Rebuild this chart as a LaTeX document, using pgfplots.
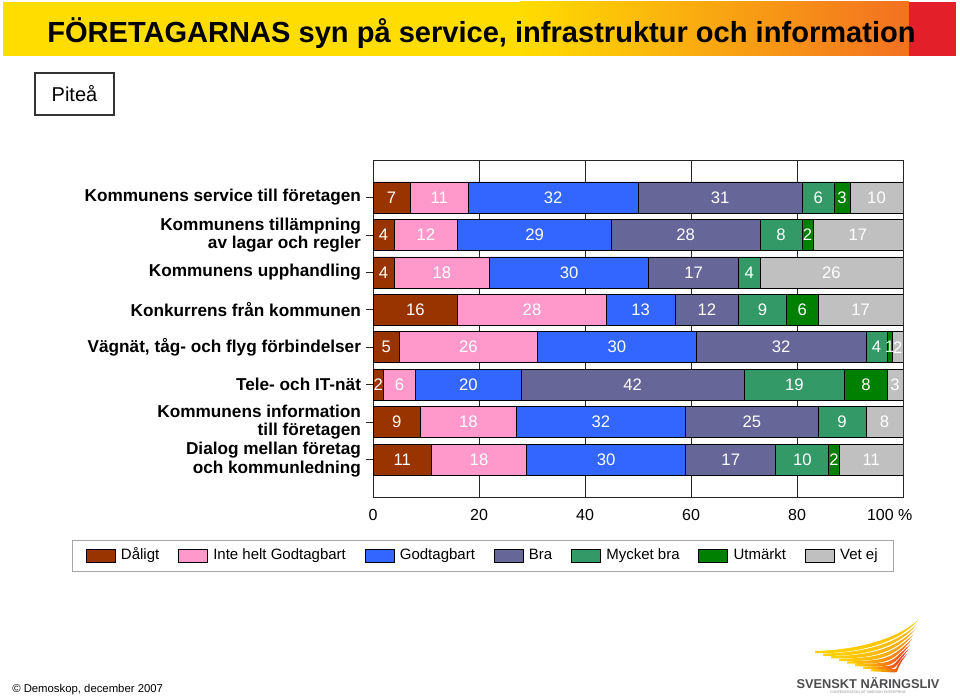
\documentclass[border=0pt]{standalone}
\usepackage{fontspec}
\setmainfont{Liberation Sans}
\usepackage{pgfplots}
\pgfplotsset{compat=1.18}
\definecolor{cDal}{HTML}{993300}
\definecolor{cInte}{HTML}{FF99CC}
\definecolor{cGod}{HTML}{3366FF}
\definecolor{cBra}{HTML}{666699}
\definecolor{cMyc}{HTML}{339966}
\definecolor{cUtm}{HTML}{008000}
\definecolor{cVet}{HTML}{C0C0C0}
\definecolor{bYel}{HTML}{FFDD00}
\definecolor{bOra}{HTML}{F37021}
\definecolor{bRed}{HTML}{E3202A}
\definecolor{logoTxt}{HTML}{4D4D4F}
\definecolor{wYel}{HTML}{FFD400}
\begin{document}
\begin{tikzpicture}
\begin{scope}[x=0.75pt,y=-0.75pt]
\useasboundingbox (0,0) rectangle (960,698);
% banner
\fill[bYel] (3,2) rectangle (520,56);
\shade[left color=bYel,right color=bOra] (520,2) rectangle (909,56);
\fill[bRed] (909,2) rectangle (956,56);
\node[anchor=west, inner sep=0pt, font=\fontsize{21.8}{25}\selectfont\bfseries] at (47,33) {FÖRETAGARNAS syn på service, infrastruktur och information};
% Pitea box
\node[draw=black!80, line width=0.8pt, minimum width=59.25pt, minimum height=31.5pt, inner sep=0pt, font=\fontsize{15}{18}\selectfont] at (74.5,94) {Piteå};
% copyright
\node[anchor=west, inner sep=0pt, font=\fontsize{8.5}{10}\selectfont] at (12,690) {© Demoskop, december 2007};
% logo
\foreach \i/\c in {0/FFC000,1/FDB515,2/F9A01B,3/F7941D,4/F26522,5/EE3A24,6/E8202A,7/D71920}{
  \definecolor{wc}{HTML}{\c}
  \pgfmathsetmacro{\sx}{815+8*\i}
  \pgfmathsetmacro{\sy}{651+2.6*\i}
  \pgfmathsetmacro{\tx}{918-1.5*\i}
  \pgfmathsetmacro{\ty}{620+4.8*\i}
  \shade[left color=wYel, right color=wc] (\sx,\sy) .. controls (\sx+40,\sy-1) and (\tx-22,\ty+20) .. (\tx,\ty)
     .. controls (\tx-20,\ty+24) and (\sx+40,\sy+3) .. (\sx,\sy+2.2) -- cycle;
}
\node[anchor=center, inner sep=0pt, text=logoTxt, font=\fontsize{9.6}{11}\selectfont\bfseries] at (868,683) {SVENSKT NÄRINGSLIV};
\node[anchor=center, inner sep=0pt, text=black!45, font=\fontsize{2.6}{3}\selectfont] at (868,692.5) {CONFEDERATION OF SWEDISH ENTERPRISE};
\end{scope}
\begin{axis}[
  at={(279.75pt,-372.75pt)}, anchor=south west,
  scale only axis, width=397.5pt, height=252.75pt,
  xbar stacked, bar width=23.25pt,
  xmin=0, xmax=100, ymin=-1, ymax=8, y dir=reverse,
  xtick={0,20,40,60,80,100},
  xticklabels={0,20,40,60,80,{\makebox[54pt][l]{100 \%}}},
  ytick={0,1,2,3,4,5,6,7},
  ytick pos=left,
  yticklabels={Kommunens service till företagen,{Kommunens tillämpning\\av lagar och regler},Kommunens upphandling,Konkurrens från kommunen,{Vägnät, tåg- och flyg förbindelser},Tele- och IT-nät,{Kommunens information\\till företagen},{Dialog mellan företag\\och kommunledning}},
  /pgf/number format/assume math mode=true,
  xmajorgrids, grid style={black!85, line width=0.6pt},
  axis line style={black!85, line width=0.7pt},
  tick align=outside,
  xtick style={draw=none},
  ytick style={black!85, line width=0.6pt},
  major tick length=5.5pt,
  xticklabel style={font=\fontsize{12}{14}\selectfont},
  yticklabel style={font=\fontsize{12.9}{13.6}\selectfont\bfseries, align=right},
  point meta=explicit symbolic,
  nodes near coords={\ifnum\strcmp{\pgfplotspointmeta}{0}=0 \else\pgfplotspointmeta\fi},
  every node near coord/.append style={anchor=center, inner sep=0pt, text=white, font=\fontsize{12.5}{14}\selectfont},
  legend columns=7,
  legend style={at={(0.2075,-0.175)}, anchor=center, draw=black!35, line width=1pt, font=\fontsize{11.25}{13}\selectfont, nodes={text depth=0.22em, text height=0.75em}, /tikz/every even column/.append style={column sep=12pt}, inner xsep=10pt, inner ysep=5pt},
  legend image code/.code={\draw[#1,line width=0.5pt] (0pt,-4.9pt) rectangle (21.75pt,4.9pt); \path (24pt,0pt);},
]
\addplot[fill=cDal, draw=black, line width=0.5pt] coordinates {(7,0)[7] (4,1)[4] (4,2)[4] (16,3)[16] (5,4)[5] (2,5)[2] (9,6)[9] (11,7)[11]};
\addplot[fill=cInte, draw=black, line width=0.5pt] coordinates {(11,0)[11] (12,1)[12] (18,2)[18] (28,3)[28] (26,4)[26] (6,5)[6] (18,6)[18] (18,7)[18]};
\addplot[fill=cGod, draw=black, line width=0.5pt] coordinates {(32,0)[32] (29,1)[29] (30,2)[30] (13,3)[13] (30,4)[30] (20,5)[20] (32,6)[32] (30,7)[30]};
\addplot[fill=cBra, draw=black, line width=0.5pt] coordinates {(31,0)[31] (28,1)[28] (17,2)[17] (12,3)[12] (32,4)[32] (42,5)[42] (25,6)[25] (17,7)[17]};
\addplot[fill=cMyc, draw=black, line width=0.5pt] coordinates {(6,0)[6] (8,1)[8] (4,2)[4] (9,3)[9] (4,4)[4] (19,5)[19] (9,6)[9] (10,7)[10]};
\addplot[fill=cUtm, draw=black, line width=0.5pt] coordinates {(3,0)[3] (2,1)[2] (0,2)[0] (6,3)[6] (1,4)[1] (8,5)[8] (0,6)[0] (2,7)[2]};
\addplot[fill=cVet, draw=black, line width=0.5pt] coordinates {(10,0)[10] (17,1)[17] (27,2)[26] (16,3)[17] (2,4)[2] (3,5)[3] (7,6)[8] (12,7)[11]};
\legend{Dåligt,Inte helt Godtagbart,Godtagbart,Bra,Mycket bra,Utmärkt,{Vet ej\hspace{16pt}}}
\end{axis}
\end{tikzpicture}
\end{document}
